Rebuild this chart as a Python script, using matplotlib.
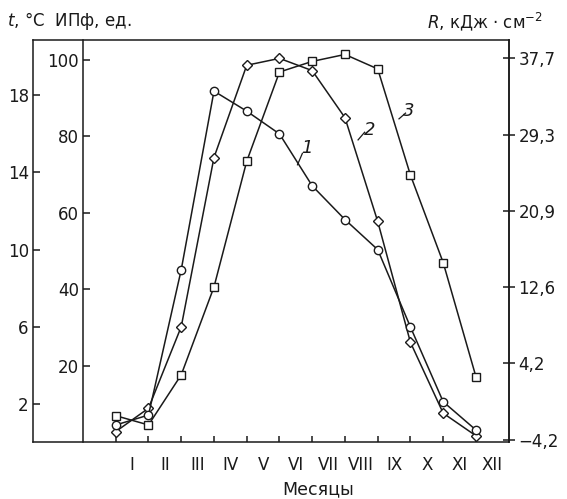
import matplotlib
matplotlib.use("Agg")
import matplotlib.pyplot as plt
import numpy as np

plt.rcParams['font.family'] = ['DejaVu Sans']
plt.rcParams['mathtext.fontset'] = 'dejavusans'

months = ['I', 'II', 'III', 'IV', 'V', 'VI', 'VII', 'VIII', 'IX', 'X', 'XI', 'XII']
# curve 1: R, kJ/cm2 (circles)
curve1_R = [-2.55, -1.46, 14.5, 34.1, 31.9, 29.4, 23.7, 20.0, 16.7, 8.2, 0.0, -3.1]
# curve 2: ИПф, units (diamonds)
curve2_ipf = [2.8, 8.9, 30.2, 74.4, 98.5, 100.3, 97.1, 84.8, 57.7, 26.1, 7.6, 1.7]
# curve 3: t, °C (squares)
curve3_t = [1.38, 0.90, 3.50, 8.06, 14.58, 19.21, 19.76, 20.12, 19.37, 13.86, 9.32, 3.40]

t_ticks = [2, 6, 10, 14, 18]
ipf_ticks = [20, 40, 60, 80, 100]
R_ticks = [-4.2, 4.2, 12.6, 20.9, 29.3, 37.7]
R_labels = ['\u22124,2', '4,2', '12,6', '20,9', '29,3', '37,7']

W, H = 567, 499
fig = plt.figure(figsize=(W / 100, H / 100), dpi=100)

x_left_outer, x_inner, x_right = 33, 83, 508.7
y_top, y_bot = 40, 442.3
b = 1 - y_bot / H
h = (y_bot - y_top) / H

lw = 1.1
fs = 12
ink = '#1a1a1a'

# outer frame with t axis
ax_t_outer = fig.add_axes([x_left_outer / W, b, (x_right - x_left_outer) / W, h])
ax_t_outer.set_ylim(0, 20.87)
ax_t_outer.set_xlim(0, 1)
ax_t_outer.set_xticks([])
ax_t_outer.set_yticks(t_ticks)
ax_t_outer.set_yticklabels([str(v) for v in t_ticks], fontsize=fs, color=ink)
ax_t_outer.tick_params(axis='y', direction='in', length=5, width=lw, pad=3, color=ink)
for s in ax_t_outer.spines.values():
    s.set_linewidth(lw)
    s.set_color(ink)

# inner main axes (ИПф)
ax = fig.add_axes([x_inner / W, b, (x_right - x_inner) / W, h])
ax.patch.set_alpha(0)
ax.set_xlim(-1, 12)
ax.set_ylim(0, 105.1)
for k in ['top', 'right', 'bottom']:
    ax.spines[k].set_visible(False)
ax.spines['left'].set_linewidth(lw)
ax.spines['left'].set_color(ink)
ax.set_yticks(ipf_ticks)
ax.set_yticklabels([str(v) for v in ipf_ticks], fontsize=fs, color=ink)
ax.tick_params(axis='y', direction='in', length=5, width=lw, pad=3, color=ink)
x = np.arange(12)
ax.set_xticks(x)
ax.set_xticklabels([])
ax.tick_params(axis='x', which='major', direction='in', length=4, width=lw, color=ink)
ax.set_xticks(x + 0.5, minor=True)
ax.set_xticklabels(months, minor=True, fontsize=fs, color=ink)
ax.tick_params(axis='x', which='minor', length=0, pad=10)

mk = dict(markerfacecolor='white', markeredgecolor=ink, markeredgewidth=1.0,
          color=ink, linewidth=lw)
ax.plot(x, curve2_ipf, marker='D', markersize=5.5, **mk, zorder=3)

# t axis for curve 3
ax_t = ax.twinx()
ax_t.set_ylim(0, 20.87)
ax_t.axis('off')
ax_t.plot(x, curve3_t, marker='s', markersize=5.5, **mk, zorder=3)

# R axis
ax_R = ax.twinx()
ax_R.set_ylim(-4.45, 39.71)
for k in ['top', 'left', 'bottom']:
    ax_R.spines[k].set_visible(False)
ax_R.spines['right'].set_linewidth(lw)
ax_R.spines['right'].set_color(ink)
ax_R.set_yticks(R_ticks)
ax_R.set_yticklabels(R_labels, fontsize=fs, color=ink)
ax_R.tick_params(axis='y', direction='inout', length=8, width=lw, pad=3, color=ink)
ax_R.plot(x, curve1_R, marker='o', markersize=6, **mk, zorder=3)

# curve labels with leader lines
def lab(axis, txt, tx, ty, lx0, ly0, lx1, ly1):
    axis.plot([lx0, lx1], [ly0, ly1], color=ink, linewidth=0.9)
    axis.text(tx, ty, txt, fontsize=fs + 1, style='italic', ha='center', va='center', color=ink)

lab(ax, '1', 5.85, 77.0, 5.55, 72.5, 5.7, 75.5)
lab(ax, '2', 7.75, 81.5, 7.4, 79.0, 7.6, 81.0)
lab(ax, '3', 8.95, 86.5, 8.65, 84.5, 8.85, 86.0)

fig.text(7 / W, 1 - 21.5 / H, '$\\mathit{t}$, \u00b0C  ИПф, ед.', fontsize=fs, ha='left', va='center', color=ink)
fig.text(543 / W, 1 - 21.5 / H, '$\\mathit{R}$, кДж \u00b7 см$^{-2}$', fontsize=fs, ha='right', va='center', color=ink)
fig.text(318 / W, 1 - 489 / H, 'Месяцы', fontsize=fs + 0.5, ha='center', va='center', color=ink)

fig.savefig('out.png', dpi=100)
